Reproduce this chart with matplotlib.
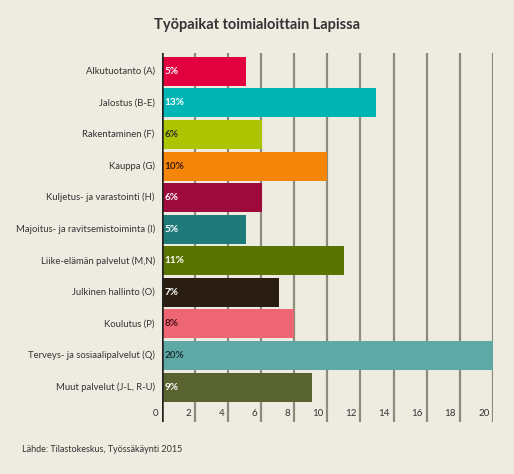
import numpy as np
import matplotlib.pyplot as plt
from matplotlib.transforms import blended_transform_factory

# data
categories = ['Alkutuotanto (A)', 'Jalostus (B-E)', 'Rakentaminen (F)', 'Kauppa (G)',
              'Kuljetus- ja varastointi (H)', 'Majoitus- ja ravitsemistoiminta (I)',
              'Liike-elämän palvelut (M,N)', 'Julkinen hallinto (O)', 'Koulutus (P)',
              'Terveys- ja sosiaalipalvelut (Q)', 'Muut palvelut (J-L, R-U)']
values = [5.1, 12.95, 6.05, 10.0, 6.05, 5.1, 11.0, 7.1, 8.0, 20.0, 9.07]
value_labels = ['5%', '13%', '6%', '10%', '6%', '5%', '11%', '7%', '8%', '20%', '9%']
ticks = [0, 2, 4, 6, 8, 10, 12, 14, 16, 18, 20]

colors = ['#E2003F', '#00B5B3', '#ADC400', '#F5860A', '#9E0A3C', '#1F7B7A',
          '#5B7300', '#2A1E12', '#EE6573', '#5EA8A6', '#586330']
label_colors = ['white', 'white', '#2a2a20', '#3a1a10', 'white', 'white',
                'white', 'white', '#4a1018', '#1c3534', 'white']

bg = '#EEECE1'
plt.rcParams['font.family'] = ['Lato', 'DejaVu Sans']

fig = plt.figure(figsize=(5.14, 4.74), dpi=100, facecolor=bg)
ax = fig.add_axes([0.3146, 0.110, 0.6444, 0.778])
ax.set_facecolor(bg)

y = np.arange(len(categories))
ax.set_xlim(0, 20)
ax.set_ylim(11.1, -0.576)

# grid lines behind bars
for t in ticks[1:]:
    ax.axvline(t, color='#8C8C7E', lw=1.6, zorder=0)
ax.axvline(0, color='#222222', lw=1.8, zorder=3)

ax.barh(y, values, height=0.92, color=colors, zorder=2)

for yi, lab, c in zip(y, value_labels, label_colors):
    ax.text(0.18, yi, lab, ha='left', va='center', fontsize=7.2,
            fontweight='bold', color=c, zorder=4)

for yi, cat in zip(y, categories):
    ax.text(-0.42, yi, cat, ha='right', va='center', fontsize=6.8,
            color='#333333', clip_on=False)

trans = blended_transform_factory(ax.transData, ax.transAxes)
for t in ticks:
    ax.text(t - 0.22, 0.022, str(t), transform=trans, ha='right', va='center',
            fontsize=7, color='#333333')

for s in ax.spines.values():
    s.set_visible(False)
ax.set_xticks([])
ax.set_yticks([])

fig.text(0.5, 1 - 25 / 474, 'Työpaikat toimialoittain Lapissa', ha='center',
         va='center', fontsize=10.5, fontweight='bold', color='#333333')
fig.text(22 / 514, 1 - 450 / 474, 'Lähde: Tilastokeskus, Työssäkäynti 2015',
         ha='left', va='center', fontsize=6.5, color='#333333')

fig.savefig('out.png', dpi=100, facecolor=bg)
